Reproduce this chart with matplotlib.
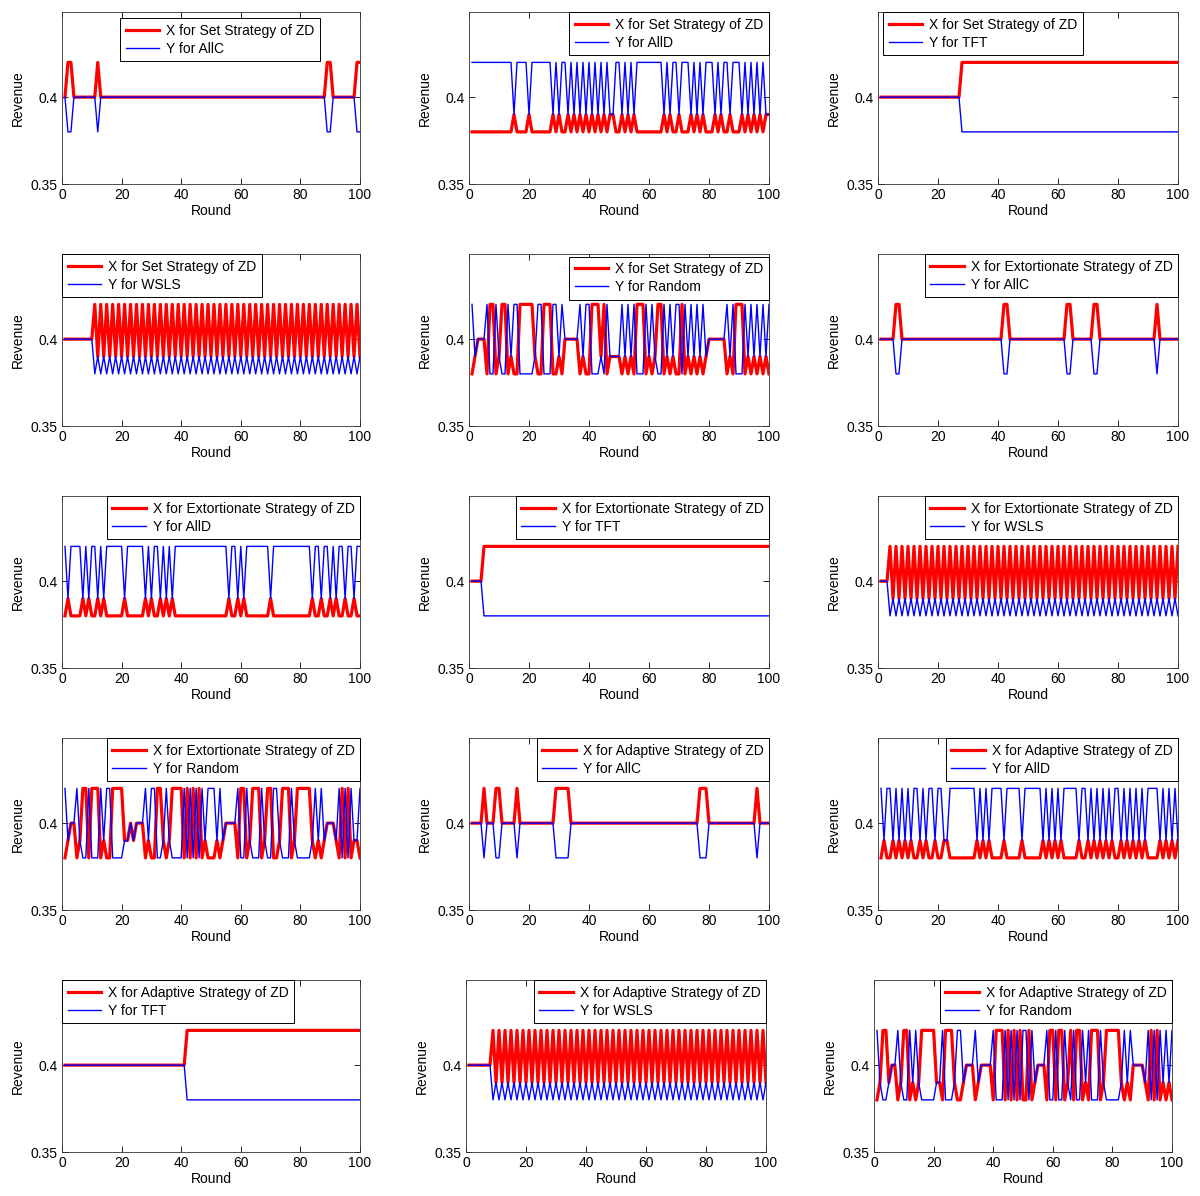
import numpy as np
import matplotlib.pyplot as plt

plt.rcParams['font.family'] = ['Liberation Sans', 'DejaVu Sans']
plt.rcParams['font.size'] = 10

rounds = np.arange(1, 101)

# outcome of each round
# R: both cooperate, S: X cooperates / Y defects, T: X defects / Y cooperates, P: both defect
payoff_x = {'R': 0.40, 'S': 0.38, 'T': 0.42, 'P': 0.39}
payoff_y = {'R': 0.40, 'S': 0.42, 'T': 0.38, 'P': 0.39}

set_allc = "RTTRRRRRRR RTRRRRRRRR RRRRRRRRRR RRRRRRRRRR RRRRRRRRRR RRRRRRRRRR RRRRRRRRRR RRRRRRRRRR RRRRRRRRTT RRRRRRRRTT"
set_alld = "SSSSSSSSSS SSSSPSSSSP SSSSSSSPSP SSPSPSPSPS PSPSPSPPSS PSPSPSSSSS SSSSPSPSSP SSSPSPSPSS SPSPSSPSSS PSPSPSPSPP"
set_tft = "RRRRRRRRRR RRRRRRRRRR RRRRRRRTTT TTTTTTTTTT TTTTTTTTTT TTTTTTTTTT TTTTTTTTTT TTTTTTTTTT TTTTTTTTTT TTTTTTTTTT"
set_wsls = "RRRRRRRRRR TPTPTPTPTP TPTPTPTPTP TPTPTPTPTP TPTPTPTPTP TPTPTPTPTP TPTPTPTPTP TPTPTPTPTP TPTPTPTPTP TPTPTPTPTP"
set_random = "SPRRRSTTSP TTSPSSTTTT TPSSTTTSSP SRRRRRSPSS TTTPTSPPPP SPSPSTTTSP SPTTSPSPSS TSPSPSPSPR RRRRRSPSTT TSPSPSPSPS"

ext_allc = "RRRRRTTRRR RRRRRRRRRR RRRRRRRRRR RRRRRRRRRR RTTRRRRRRR RRRRRRRRRR RRTTRRRRRR RTTRRRRRRR RRRRRRRRRR RRTRRRRRRR"
ext_alld = "SPSSSSPSPS SPSPSSSSSS PSSSSSSPSP SSPSPSPSSS SSSSSSSSSS SSSSSPSSPS PSSSSSSSSP SSSSSSSSSS SSSPSSPSSP SPSSPSSPSS"
ext_tft = "RRRRTTTTTT TTTTTTTTTT TTTTTTTTTT TTTTTTTTTT TTTTTTTTTT TTTTTTTTTT TTTTTTTTTT TTTTTTTTTT TTTTTTTTTT TTTTTTTTTT"
ext_wsls = "RRRTPTPTPT PTPTPTPTPT PTPTPTPTPT PTPTPTPTPT PTPTPTPTPT PTPTPTPTPT PTPTPTPTPT PTPTPTPTPT PTPTPTPTPT PTPTPTPTPT"
ext_random = "SPRRSPTTST TTSPSSTTTT PPRPRRRSPS STTPSPTTTT STSTSTSPSS SPSPRRRRST TSPTTTSPTT SSPTTTSPTT TTTPSPSPRR RPSTSTSPPS"

ada_allc = "RRRRTRRRTT RRRRRTRRRR RRRRRRRRTT TTTRRRRRRR RRRRRRRRRR RRRRRRRRRR RRRRRRRRRR RRRRRRTTTR RRRRRRRRRR RRRRRTRRRR"
ada_alld = "SPSSPSPSPS PSSPSPSSPS SPPSSSSSSS SSPSPSPSSS SPSSSSSPSS SSSSPSPSPS PSSSSSPSSP SPSPSPSPSS PSPSPSPSPS SSSPSPSPSP"
ada_tft = "RRRRRRRRRR RRRRRRRRRR RRRRRRRRRR RRRRRRRRRR RTTTTTTTTT TTTTTTTTTT TTTTTTTTTT TTTTTTTTTT TTTTTTTTTT TTTTTTTTTT"
ada_wsls = "RRRRRRRRTP TPTPTPTPTP TPTPTPTPTP TPTPTPTPTP TPTPTPTPTP TPTPTPTPTP TPTPTPTPTP TPTPTPTPTP TPTPTPTPTP TPTPTPTPTP"
ada_random = "SPTTPRRSPT TSPSPTTTTT PPSTTTPSSP RRRSPRRRRS TTTSTSTSTS STSPRRRSTT STTSPTSTTS PSTTTSPTTT TTPSPSRRRR PSTSTSPSPS"

x_labels = ['X for Set Strategy of ZD'] * 5 + ['X for Extortionate Strategy of ZD'] * 5 + \
           ['X for Adaptive Strategy of ZD'] * 5
y_labels = ['Y for AllC', 'Y for AllD', 'Y for TFT', 'Y for WSLS', 'Y for Random'] * 3
games = [set_allc, set_alld, set_tft, set_wsls, set_random,
         ext_allc, ext_alld, ext_tft, ext_wsls, ext_random,
         ada_allc, ada_alld, ada_tft, ada_wsls, ada_random]

# legend placement for each panel (loc, anchor)
legend_pos = [('upper left', (0.195, 0.965)), ('upper right', (1, 1)), ('upper left', (0.017, 1)),
              ('upper left', (0, 1)), ('upper right', (1, 0.985)), ('upper right', (1, 1)),
              ('upper right', (1, 1)), ('upper right', (1, 1)), ('upper right', (1, 1)),
              ('upper right', (1, 1)), ('upper right', (1, 1)), ('upper right', (1, 1)),
              ('upper left', (0, 1)), ('upper right', (1, 1)), ('upper right', (1, 1))]

W, H = 1200, 1196
fig = plt.figure(figsize=(W / 100, H / 100), dpi=100)

col_left = [62, 469, 878]
row_top = [12, 254, 496, 738, 980]

for i, game in enumerate(games):
    r, c = divmod(i, 3)
    left = col_left[c]
    width = 298 if c == 0 else 300
    if r == 4 and c > 0:
        left = [466, 874][c - 1]
        width = 300 if c == 1 else 298
    ax = fig.add_axes([left / W, 1 - (row_top[r] + 172) / H, width / W, 172 / H])

    outcome = game.replace(' ', '')
    xs = [payoff_x[o] for o in outcome]
    ys = [payoff_y[o] for o in outcome]
    ax.plot(rounds, xs, color='red', lw=2.3, label=x_labels[i])
    ax.plot(rounds, ys, color='blue', lw=1.0, label=y_labels[i])

    ax.set_xlim(0, 100)
    ax.set_ylim(0.35, 0.449)
    ax.set_xticks(np.arange(0, 101, 20))
    ax.set_yticks([0.35, 0.4])
    ax.set_yticklabels(['0.35', '0.4'])
    ax.tick_params(direction='in', top=True, right=True, length=4, width=0.6, pad=3)
    for s in ax.spines.values():
        s.set_linewidth(0.6)
        s.set_color('#333333')
    ax.set_xlabel('Round', labelpad=1)
    ax.set_ylabel('Revenue', labelpad=4)

    loc, anchor = legend_pos[i]
    leg = ax.legend(loc=loc, bbox_to_anchor=anchor, fancybox=False, framealpha=1,
                    edgecolor='black', borderaxespad=0, handlelength=2.4,
                    labelspacing=0.3, borderpad=0.4, handletextpad=0.5)
    leg.get_frame().set_linewidth(0.7)

fig.savefig('out.png', dpi=100)
